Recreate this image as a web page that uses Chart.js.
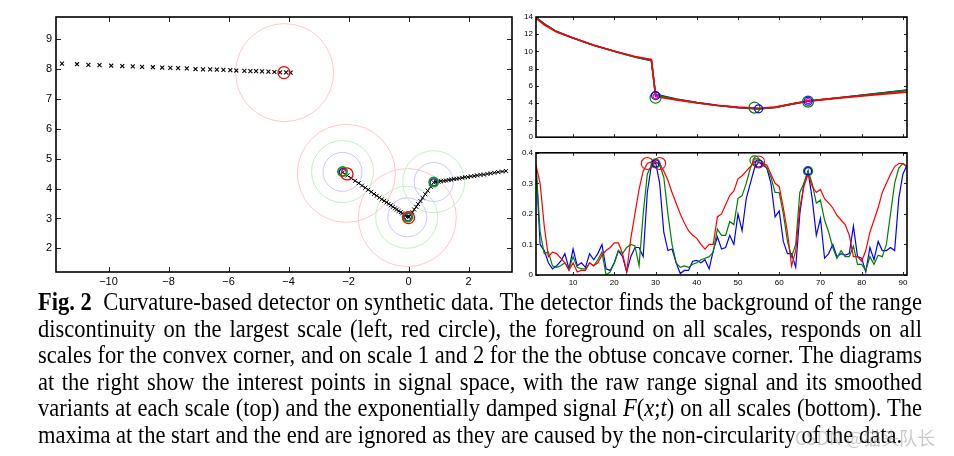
<!DOCTYPE html>
<html>
<head>
<meta charset="utf-8">
<script src="https://cdn.jsdelivr.net/npm/chart.js@4.4.0/dist/chart.umd.min.js"></script>
<style>
    html, body {
        margin: 0;
        padding: 0;
        background: #fff;
    }
    body {
        width: 954px;
        height: 456px;
        position: relative;
        overflow: hidden;
    }
    canvas {
        position: absolute;
    }
    #scanChart {
        left: 0;
        top: 0;
    }
    #rangeChart {
        left: 500px;
        top: 0;
    }
    #dampedChart {
        left: 500px;
        top: 145px;
    }
    #caption {
        position: absolute;
        left: 38px;
        top: 289px;
        width: 884px;
        font-family: "Liberation Serif", "DejaVu Serif", serif;
        font-size: 22.5px;
        line-height: 26.5px;
        color: #000;
    }
    #caption .ln {
        text-align: justify;
        text-align-last: justify;
        transform: scaleY(1.1);
    }
    #caption .ln.last {
        text-align-last: left;
    }
    #watermark {
        position: absolute;
        left: 795px;
        top: 424px;
        font-family: "Noto Sans CJK SC", "Noto Sans", sans-serif;
        font-size: 18px;
        color: rgba(150, 150, 150, 0.5);
    }
</style>
</head>
<body>
<canvas id="scanChart" width="520" height="292"></canvas>
<canvas id="rangeChart" width="420" height="145"></canvas>
<canvas id="dampedChart" width="420" height="150"></canvas>

<div id="caption">
    <div class="ln"><b>Fig. 2</b>&nbsp; Curvature-based detector on synthetic data. The detector finds the background of the range</div>
    <div class="ln">discontinuity on the largest scale (left, red circle), the foreground on all scales, responds on all</div>
    <div class="ln">scales for the convex corner, and on scale 1 and 2 for the the obtuse concave corner. The diagrams</div>
    <div class="ln">at the right show the interest points in signal space, with the raw range signal and its smoothed</div>
    <div class="ln">variants at each scale (top) and the exponentially damped signal <i>F</i>(<i>x</i>;<i>t</i>) on all scales (bottom). The</div>
    <div class="ln last">maxima at the start and the end are ignored as they are caused by the non-circularity of the data.</div>
</div>
<div id="watermark">CSDN @猫头队长</div>

<script>
// ---- scan in the plane (left) ----
const scanX = [
    -11.55, -11.05, -10.67, -10.3, -9.91, -9.54, -9.19, -8.88, -8.52, -8.21,
    -7.94, -7.68, -7.39, -7.1, -6.85, -6.61, -6.39, -6.17, -5.94, -5.74,
    -5.47, -5.27, -5.08, -4.88, -4.67, -4.47, -4.28, -4.08, -3.93,
    -2.19, -2.04, -1.91, -1.78, -1.66, -1.55, -1.44, -1.34, -1.24, -1.15,
    -1.06, -0.97, -0.89, -0.81, -0.73, -0.66, -0.59, -0.52, -0.45, -0.39,
    -0.33, -0.26, -0.21, -0.15, -0.09, -0.04,
    0.02, 0.07, 0.13, 0.19, 0.26, 0.32, 0.4, 0.47, 0.56, 0.64, 0.74, 0.84,
    0.92, 1.0, 1.08, 1.17, 1.25, 1.34, 1.42, 1.51, 1.6, 1.69, 1.79, 1.88,
    1.98, 2.08, 2.19, 2.29, 2.4, 2.51, 2.63, 2.74, 2.86, 2.99, 3.12, 3.25,
];
const scanY = [
    8.18, 8.16, 8.14, 8.13, 8.11, 8.1, 8.09, 8.07, 8.06, 8.05,
    8.04, 8.03, 8.02, 8.0, 7.99, 7.99, 7.98, 7.97, 7.96, 7.95,
    7.94, 7.93, 7.93, 7.92, 7.91, 7.9, 7.89, 7.89, 7.88,
    4.54, 4.44, 4.35, 4.26, 4.18, 4.1, 4.03, 3.96, 3.89, 3.82,
    3.76, 3.7, 3.64, 3.59, 3.54, 3.49, 3.44, 3.39, 3.34, 3.3,
    3.25, 3.21, 3.17, 3.13, 3.09, 3.06,
    3.05, 3.13, 3.21, 3.3, 3.39, 3.48, 3.58, 3.69, 3.81, 3.93, 4.06, 4.21,
    4.22, 4.23, 4.25, 4.26, 4.27, 4.29, 4.3, 4.32, 4.33, 4.34, 4.36, 4.38,
    4.39, 4.41, 4.42, 4.44, 4.46, 4.47, 4.49, 4.51, 4.53, 4.55, 4.57, 4.59,
];
const scanBreak = 29; // first 29 samples lie on the far wall

// detections (small circles) and scale circles (big, faint)
const detRedX = [-4.15, -2.05, 0.0];
const detRedY = [7.88, 4.49, 3.03];
const detGreenX = [-2.2, -0.02, 0.84];
const detGreenY = [4.57, 3.05, 4.22];
const detBlueX = [-2.19, -0.02, 0.84];
const detBlueY = [4.55, 3.05, 4.21];
const scaleRedX = [-4.13, -2.07, -0.04];
const scaleRedY = [7.88, 4.51, 3.03];
const scaleGreenX = [-2.2, -0.06, 0.84];
const scaleGreenY = [4.57, 3.04, 4.23];
const scaleBlueX = [-2.2, -0.04, 0.84];
const scaleBlueY = [4.56, 3.04, 4.22];

const scanXTicks = [-10, -8, -6, -4, -2, 0, 2];
const scanYTicks = [2, 3, 4, 5, 6, 7, 8, 9];

// ---- range signal (top right) ----
const rangeIdx = [1, 3, 6, 10, 15, 20, 25, 29, 30, 35, 40, 45, 50, 55, 59, 63, 67, 75, 83, 91];
const rangeBlue = [13.95, 13.2, 12.3, 11.55, 10.7, 10.0, 9.35, 8.9, 5.0, 4.45, 4.05, 3.72, 3.45, 3.28, 3.45, 3.85, 4.2, 4.62, 5.05, 5.5];
const rangeGreen = [13.95, 13.2, 12.3, 11.55, 10.7, 10.0, 9.35, 8.95, 4.9, 4.42, 4.03, 3.7, 3.46, 3.33, 3.47, 3.85, 4.22, 4.62, 5.02, 5.45];
const rangeRed = [13.85, 13.1, 12.25, 11.55, 10.7, 10.0, 9.4, 9.05, 4.72, 4.35, 3.98, 3.7, 3.5, 3.38, 3.5, 3.87, 4.2, 4.58, 4.92, 5.25];
const rangeDetGreenX = [30, 54, 67];
const rangeDetGreenY = [4.6, 3.45, 4.15];
const rangeDetBlueX = [30, 55, 67];
const rangeDetBlueY = [4.85, 3.3, 4.2];
const rangeDetRedX = [30, 67];
const rangeDetRedY = [4.75, 4.2];
const rangeYTicks = [0, 2, 4, 6, 8, 10, 12, 14];

// ---- damped signal F(x;t) (bottom right) ----
const dampedBlue = [
    0.36, 0.1, 0.08, 0.04, 0.02, 0.03, 0.045, 0.07, 0.02, 0.085,
    0.03, 0.04, 0.025, 0.07, 0.05, 0.07, 0.1, 0.02, 0.015, 0.04,
    0.08, 0.06, 0.01, 0.06, 0.09, 0.09, 0.06, 0.27, 0.36, 0.37,
    0.3, 0.14, 0.08, 0.085, 0.04, 0.005, 0.015, 0.015, 0.045, 0.048,
    0.04, 0.05, 0.02, 0.08, 0.125, 0.085, 0.09, 0.13, 0.1, 0.2,
    0.145, 0.25, 0.3, 0.35, 0.37, 0.36, 0.35, 0.3, 0.19, 0.21,
    0.11, 0.07, 0.07, 0.025, 0.2, 0.3, 0.34, 0.25, 0.13, 0.185,
    0.055, 0.07, 0.1, 0.06, 0.07, 0.065, 0.07, 0.16, 0.06, 0.055,
    0.01, 0.09, 0.05, 0.11, 0.08, 0.08, 0.09, 0.08, 0.25, 0.33, 0.36,
];
const dampedGreen = [
    0.36, 0.14, 0.07, 0.075, 0.03, 0.025, 0.03, 0.04, 0.02, 0.06,
    0.025, 0.02, 0.02, 0.04, 0.03, 0.05, 0.075, 0.0, 0.01, 0.04,
    0.08, 0.07, 0.09, 0.1, 0.095, 0.03, 0.2, 0.33, 0.36, 0.37,
    0.36, 0.32, 0.2, 0.1, 0.04, 0.025, 0.03, 0.025, 0.035, 0.04,
    0.05, 0.055, 0.06, 0.075, 0.15, 0.13, 0.13, 0.175, 0.165, 0.25,
    0.26, 0.3, 0.35, 0.38, 0.38, 0.37, 0.35, 0.32, 0.27, 0.27,
    0.2, 0.11, 0.06, 0.1, 0.27, 0.3, 0.34, 0.3, 0.235, 0.245,
    0.18, 0.14, 0.09, 0.055, 0.08, 0.06, 0.06, 0.095, 0.035, 0.035,
    0.015, 0.06, 0.035, 0.065, 0.06, 0.1, 0.2, 0.3, 0.35, 0.365, 0.355,
];
const dampedRed = [
    0.36, 0.3, 0.16, 0.06, 0.075, 0.07, 0.055, 0.04, 0.015, 0.04,
    0.01, 0.015, 0.015, 0.04, 0.03, 0.04, 0.065, 0.08, 0.09, 0.105,
    0.105, 0.07, 0.01, 0.12, 0.2, 0.28, 0.34, 0.365, 0.37, 0.37,
    0.365, 0.34, 0.31, 0.27, 0.235, 0.2, 0.17, 0.145, 0.13, 0.12,
    0.1, 0.085, 0.1, 0.1, 0.19, 0.2, 0.23, 0.26, 0.275, 0.315,
    0.325, 0.34, 0.355, 0.37, 0.37, 0.365, 0.36, 0.33, 0.3, 0.29,
    0.22, 0.14, 0.03, 0.08, 0.22, 0.29, 0.33, 0.29, 0.27, 0.28,
    0.25, 0.235, 0.22, 0.195, 0.18, 0.165, 0.13, 0.06, 0.06, 0.045,
    0.08, 0.14, 0.18, 0.22, 0.27, 0.3, 0.33, 0.355, 0.365, 0.365, 0.355,
];
const dampedDetRedX = [28, 31, 55];
const dampedDetRedY = [0.365, 0.365, 0.37];
const dampedDetGreenX = [30, 54, 67];
const dampedDetGreenY = [0.365, 0.375, 0.34];
const dampedDetBlueX = [30, 55, 67];
const dampedDetBlueY = [0.365, 0.365, 0.34];
const signalXTicks = [10, 20, 30, 40, 50, 60, 70, 80, 90];
const dampedYTicks = [0, 0.1, 0.2, 0.3, 0.4];

const RED = "#ff0000";
const GREEN = "#008000";
const BLUE = "#0000ff";

Chart.defaults.animation = false;
Chart.defaults.font.family = "'Liberation Sans', Arial, sans-serif";
Chart.defaults.color = "#000";

/**
 * box round the plot area and inward ticks on all four sides
 */
const matlabAxes = {
    id: "matlabAxes",
    afterDraw(chart, args, opts) {
        const { ctx, chartArea: a, scales } = chart;
        const len = opts.tickLen || 4;
        ctx.save();
        ctx.strokeStyle = "#222";
        ctx.lineWidth = 1;
        ctx.beginPath();
        scales.x.ticks.forEach((t, i) => {
            const px = Math.round(scales.x.getPixelForTick(i)) + 0.5;
            ctx.moveTo(px, a.bottom);
            ctx.lineTo(px, a.bottom - len);
            ctx.moveTo(px, a.top);
            ctx.lineTo(px, a.top + len);
        });
        scales.y.ticks.forEach((t, i) => {
            const py = Math.round(scales.y.getPixelForTick(i)) + 0.5;
            ctx.moveTo(a.left, py);
            ctx.lineTo(a.left + len, py);
            ctx.moveTo(a.right, py);
            ctx.lineTo(a.right - len, py);
        });
        ctx.stroke();
        ctx.strokeStyle = "#000";
        ctx.lineWidth = opts.boxWidth || 1.5;
        ctx.strokeRect(a.left, a.top, a.right - a.left, a.bottom - a.top);
        ctx.restore();
    },
};

function pts(xs, ys) {
    return xs.map((x, i) => ({ x: x, y: ys[i] }));
}

function series(ys) {
    return ys.map((y, i) => ({ x: i + 1, y: y }));
}

function fixedTicks(list) {
    return (scale) => {
        scale.ticks = list.map((v) => ({ value: v }));
    };
}

function minusLabel(v) {
    return String(v).replace("-", "\u2212");
}

function circleSet(data, color, radius, width) {
    return {
        data: data,
        showLine: false,
        pointStyle: "circle",
        pointRadius: radius,
        pointBorderColor: color,
        pointBackgroundColor: "rgba(0,0,0,0)",
        pointBorderWidth: width,
        clip: false,
    };
}

function lineSet(data, color, width) {
    return {
        data: data,
        showLine: true,
        borderColor: color,
        borderWidth: width,
        pointRadius: 0,
        tension: 0,
    };
}

function axis(min, max, ticks, opts) {
    return {
        type: "linear",
        position: opts.position,
        min: min,
        max: max,
        grid: { display: false, drawTicks: false },
        border: { display: false },
        afterBuildTicks: fixedTicks(ticks),
        afterFit: opts.fit,
        ticks: {
            display: opts.labels !== false,
            padding: opts.padding,
            font: { size: opts.size },
            maxRotation: 0,
            autoSkip: false,
            callback: opts.callback || ((v) => minusLabel(v)),
        },
    };
}

/**
 *
 */
function _renderScanChart() {
    const far = pts(scanX.slice(0, scanBreak), scanY.slice(0, scanBreak));
    const near = pts(scanX.slice(scanBreak), scanY.slice(scanBreak));

    const datasets = [
        circleSet(pts(detRedX, detRedY), RED, 6, 1.3),
        circleSet(pts(detGreenX, detGreenY), "#1a9a1a", 4.5, 2),
        circleSet(pts(detBlueX, detBlueY), BLUE, 3.5, 1.2),
        {
            data: near,
            showLine: true,
            borderColor: "#000",
            borderWidth: 0.8,
            pointStyle: "crossRot",
            pointRadius: 2.8,
            pointBorderColor: "#000",
            pointBorderWidth: 1,
        },
        {
            data: far,
            showLine: false,
            pointStyle: "crossRot",
            pointRadius: 2.8,
            pointBorderColor: "#000",
            pointBorderWidth: 1.1,
        },
        circleSet(pts(scaleBlueX, scaleBlueY), "#c8c8ff", 19.5, 1),
        circleSet(pts(scaleGreenX, scaleGreenY), "#c4efc4", 31, 1),
        circleSet(pts(scaleRedX, scaleRedY), "#ffc8c8", 49, 1),
    ];

    const config = {
        type: "scatter",
        data: { datasets: datasets },
        options: {
            responsive: false,
            devicePixelRatio: 1,
            layout: {
                autoPadding: false,
                padding: { left: 0, top: 17, right: 8, bottom: 2 },
            },
            scales: {
                x: axis(-11.75, 3.45, scanXTicks, {
                    position: "bottom",
                    size: 11,
                    padding: 3,
                    fit: (s) => {
                        s.height = 18;
                    },
                }),
                y: axis(1.21, 9.74, scanYTicks, {
                    position: "left",
                    size: 11,
                    padding: 4,
                    fit: (s) => {
                        s.width = 56;
                    },
                }),
            },
            plugins: {
                legend: { display: false },
                tooltip: { enabled: false },
                matlabAxes: { tickLen: 5, boxWidth: 1.6 },
            },
        },
        plugins: [matlabAxes],
    };

    new Chart(document.getElementById("scanChart"), config);
}

/**
 *
 */
function _renderRangeChart() {
    const datasets = [
        circleSet(pts(rangeDetRedX, rangeDetRedY), "#e000e0", 2.5, 1.2),
        circleSet(pts(rangeDetBlueX, rangeDetBlueY), BLUE, 4, 1.2),
        circleSet(pts(rangeDetGreenX, rangeDetGreenY), GREEN, 5.5, 1.2),
        lineSet(pts(rangeIdx, rangeRed), RED, 1.6),
        lineSet(pts(rangeIdx, rangeGreen), GREEN, 1.6),
        lineSet(pts(rangeIdx, rangeBlue), BLUE, 1.6),
    ];

    const config = {
        type: "scatter",
        data: { datasets: datasets },
        options: {
            responsive: false,
            devicePixelRatio: 1,
            layout: {
                autoPadding: false,
                padding: { left: 0, top: 17, right: 13, bottom: 0 },
            },
            scales: {
                x: axis(1, 91, signalXTicks, {
                    position: "bottom",
                    size: 8,
                    padding: 0,
                    labels: false,
                    fit: (s) => {
                        s.height = 5;
                    },
                }),
                y: axis(0, 14, rangeYTicks, {
                    position: "left",
                    size: 8,
                    padding: 3,
                    fit: (s) => {
                        s.width = 36;
                    },
                }),
            },
            plugins: {
                legend: { display: false },
                tooltip: { enabled: false },
                matlabAxes: { tickLen: 3, boxWidth: 1.6 },
            },
        },
        plugins: [matlabAxes],
    };

    new Chart(document.getElementById("rangeChart"), config);
}

/**
 *
 */
function _renderDampedChart() {
    const datasets = [
        circleSet(pts(dampedDetBlueX, dampedDetBlueY), BLUE, 3.5, 1.2),
        circleSet(pts(dampedDetGreenX, dampedDetGreenY), GREEN, 4.5, 1.2),
        circleSet(pts(dampedDetRedX, dampedDetRedY), RED, 6, 1.1),
        lineSet(series(dampedRed), RED, 1.2),
        lineSet(series(dampedGreen), GREEN, 1.2),
        lineSet(series(dampedBlue), BLUE, 1.2),
    ];

    const config = {
        type: "scatter",
        data: { datasets: datasets },
        options: {
            responsive: false,
            devicePixelRatio: 1,
            layout: {
                autoPadding: false,
                padding: { left: 0, top: 7, right: 13, bottom: 6 },
            },
            scales: {
                x: axis(1, 91, signalXTicks, {
                    position: "bottom",
                    size: 8,
                    padding: 3,
                    fit: (s) => {
                        s.height = 14;
                    },
                }),
                y: axis(0, 0.4, dampedYTicks, {
                    position: "left",
                    size: 8,
                    padding: 3,
                    fit: (s) => {
                        s.width = 36;
                    },
                    callback: (v) => (v === 0 ? "0" : String(v)),
                }),
            },
            plugins: {
                legend: { display: false },
                tooltip: { enabled: false },
                matlabAxes: { tickLen: 3, boxWidth: 1.6 },
            },
        },
        plugins: [matlabAxes],
    };

    new Chart(document.getElementById("dampedChart"), config);
}

_renderScanChart();
_renderRangeChart();
_renderDampedChart();
</script>
</body>
</html>
